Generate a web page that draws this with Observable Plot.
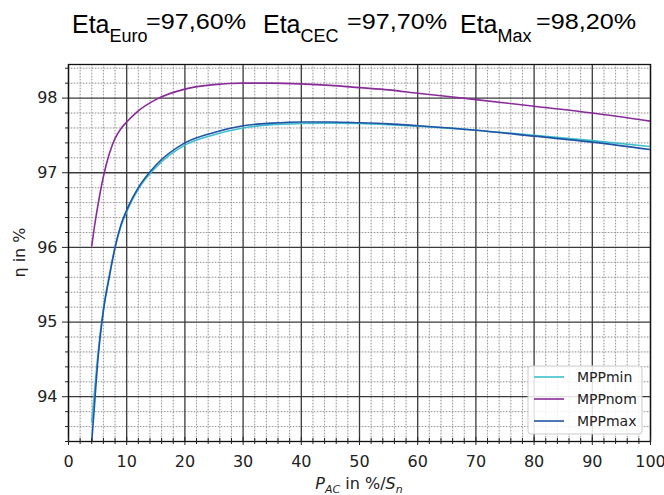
<!DOCTYPE html>
<html><head><meta charset="utf-8">
<script src="https://cdn.jsdelivr.net/npm/d3@7"></script>
<script src="https://cdn.jsdelivr.net/npm/@observablehq/plot@0.6"></script>
<style>
body{margin:0;background:#fff;}
#wrap{position:relative;width:664px;height:495px;overflow:hidden;}
#title{display:block;}
#chart svg{display:block;}
</style></head><body>
<div id="wrap"><svg id="title" width="664" height="57"></svg><div id="chart"></div></div>
<script>
// ---- data ----
const pac = [4, 4.5, 5, 6, 7, 8, 9, 10, 12, 15, 20, 25, 30, 35, 40, 45, 50, 55, 60, 70, 80, 90, 100];
const mppMin = [93.66, 94.1, 94.52, 95.18, 95.62, 96.0, 96.28, 96.48, 96.78, 97.07, 97.37, 97.51, 97.6, 97.645, 97.66, 97.665, 97.66, 97.645, 97.625, 97.57, 97.5, 97.43, 97.35];
const mppNom = [96.02, 96.3, 96.54, 96.95, 97.25, 97.46, 97.59, 97.68, 97.83, 97.98, 98.12, 98.18, 98.2, 98.2, 98.19, 98.17, 98.14, 98.11, 98.065, 97.98, 97.89, 97.8, 97.69];
const mppMax = [93.4, 93.92, 94.45, 95.15, 95.6, 96.0, 96.3, 96.5, 96.8, 97.1, 97.4, 97.54, 97.63, 97.665, 97.68, 97.68, 97.67, 97.655, 97.63, 97.57, 97.49, 97.41, 97.31];
const seriesNames = ["MPPmin", "MPPnom", "MPPmax"];
const seriesColors = ["#3dbfcd", "#8a2b9a", "#2153a6"];
const xTicks = [0, 10, 20, 30, 40, 50, 60, 70, 80, 90, 100];
const yTicks = [94, 95, 96, 97, 98];
const titleNames = ["Eta", "Eta", "Eta"];
const titleSubs = ["Euro", "CEC", "Max"];
const titleValues = ["=97,60%", "=97,70%", "=98,20%"];
const yLabel = "η in %";

// ---- title ----
const tsvg = d3.select("#title");
const tX = [72, 263, 460];
const vX = [146, 347, 536];
titleNames.forEach((n, i) => {
  const t = tsvg.append("text").attr("x", tX[i]).attr("y", 33)
    .attr("font-family", "Liberation Sans, Arial, sans-serif").attr("fill", "#000");
  t.append("tspan").attr("font-size", 25).text(n);
  t.append("tspan").attr("font-size", 18).attr("dy", 9).text(titleSubs[i]);
  tsvg.append("text").attr("x", vX[i]).attr("y", 29)
    .attr("font-family", "Liberation Sans, Arial, sans-serif").attr("fill", "#000")
    .attr("font-size", 22).attr("textLength", 100).attr("lengthAdjust", "spacingAndGlyphs")
    .text(titleValues[i]);
});

// ---- chart ----
const W = 664, H = 438;
const mL = 68, mR = 14, mT = 7, mB = 54;
const plotH = H - mT - mB;
const series = [mppMin, mppNom, mppMax];
const data = seriesNames.flatMap((s, i) => pac.map((x, j) => ({x, y: series[i][j], s})));
const xMinor = d3.range(0, 101, 2).filter(v => v % 10 !== 0);
const yMinor = d3.range(934, 985, 2).map(v => v / 10).filter(v => Math.abs(v - Math.round(v)) > 1e-6);

const chart = Plot.plot({
  width: W, height: H,
  marginLeft: mL, marginRight: mR, marginTop: mT, marginBottom: mB,
  x: {domain: [0, 100]},
  y: {domain: [93.4, 98.45]},
  color: {domain: seriesNames, range: seriesColors},
  style: {fontFamily: "DejaVu Sans, sans-serif", fontSize: "16px", color: "#222", background: "#fff"},
  marks: [
    Plot.gridX(xMinor, {stroke: "#e4e4e4", strokeOpacity: 1}),
    Plot.gridY(yMinor, {stroke: "#e4e4e4", strokeOpacity: 1}),
    Plot.gridX(xMinor, {stroke: "#9a9a9a", strokeOpacity: 1, strokeDasharray: "1.2,1.8"}),
    Plot.gridY(yMinor, {stroke: "#9a9a9a", strokeOpacity: 1, strokeDasharray: "1.2,1.8"}),
    Plot.gridX(xTicks, {stroke: "#3a3a3a", strokeOpacity: 1, strokeWidth: 1.3}),
    Plot.gridY(yTicks, {stroke: "#3a3a3a", strokeOpacity: 1, strokeWidth: 1.3}),
    Plot.line(data, {x: "x", y: "y", z: "s", stroke: "s", curve: "monotone-x", strokeWidth: 1.6, clip: true}),
    Plot.frame({stroke: "#111", strokeWidth: 1.3}),
    Plot.axisX(xTicks, {tickSize: 4, tickPadding: 10, label: null, fontSize: 16, tickFormat: d => String(d)}),
    Plot.axisX(xMinor, {tickSize: 3, text: null, label: null}),
    Plot.ruleX(xTicks, {x: d => d, insetTop: plotH - 4, stroke: "#222"}),
    Plot.ruleX(xMinor, {x: d => d, insetTop: plotH - 3, stroke: "#222"}),
    Plot.axisY(yTicks, {tickSize: 6, tickPadding: 5, label: null, fontSize: 16, tickFormat: d => String(d)}),
    Plot.axisY(yMinor, {tickSize: 3, text: null, label: null})
  ]
});
document.getElementById("chart").appendChild(chart);

const svg = d3.select(chart);
// y label
svg.append("text").attr("transform", `translate(20,${mT + plotH / 2}) rotate(-90)`)
  .attr("text-anchor", "middle").attr("dominant-baseline", "middle")
  .attr("font-family", "DejaVu Sans, sans-serif").attr("font-size", 16).attr("fill", "#222")
  .text(yLabel);
// x label
const xl = svg.append("text").attr("x", 359).attr("y", 432).attr("text-anchor", "middle")
  .attr("font-family", "DejaVu Sans, sans-serif").attr("font-size", 16).attr("fill", "#222");
xl.append("tspan").attr("font-style", "italic").text("P");
xl.append("tspan").attr("font-style", "italic").attr("font-size", 11).attr("dy", 4).text("AC");
xl.append("tspan").attr("dy", -4).attr("xml:space", "preserve").text(" in %/");
xl.append("tspan").attr("font-style", "italic").text("S");
xl.append("tspan").attr("font-style", "italic").attr("font-size", 11).attr("dy", 4).text("n");

// legend
const lg = svg.append("g").attr("font-family", "DejaVu Sans, sans-serif").attr("font-size", 14).attr("text-anchor", "start");
lg.append("rect").attr("x", 528).attr("y", 309).attr("width", 114).attr("height", 68)
  .attr("rx", 3).attr("fill", "#fff").attr("fill-opacity", 0.85).attr("stroke", "#cccccc");
seriesNames.forEach((n, i) => {
  const cy = 320 + i * 22;
  lg.append("line").attr("x1", 534).attr("x2", 564).attr("y1", cy).attr("y2", cy)
    .attr("stroke", seriesColors[i]).attr("stroke-width", 1.6);
  lg.append("text").attr("x", 577).attr("y", cy).attr("dominant-baseline", "central")
    .attr("text-anchor", "start").attr("fill", "#222").text(n);
});
</script>
</body></html>
